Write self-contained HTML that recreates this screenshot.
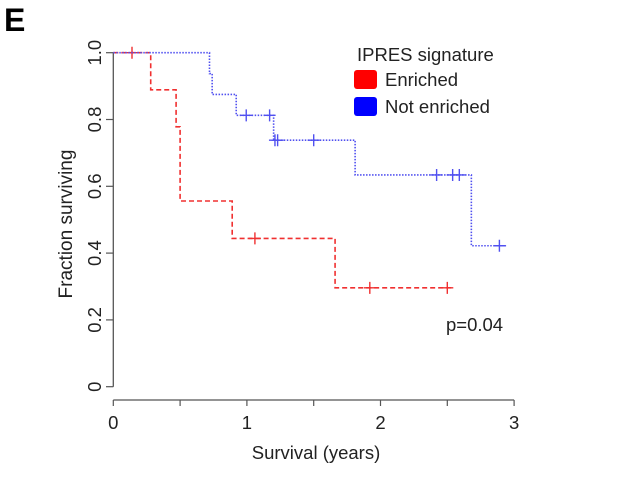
<!DOCTYPE html>
<html><head><meta charset="utf-8"><style>
body{margin:0;background:#fff;}
svg{display:block;font-family:"Liberation Sans",Arial,sans-serif;}
</style></head><body>
<svg id="chart" width="633" height="504">
<text x="4" y="31" font-size="32" font-weight="bold" fill="#000">E</text>
<g id="axes"></g>
<g id="series"></g>
<text x="72" y="224" font-size="19" fill="#222" text-anchor="middle" transform="rotate(-90 72 224)">Fraction surviving</text>
<text x="316" y="459" font-size="18.5" fill="#222" text-anchor="middle">Survival (years)</text>
<g>
<text x="357" y="61" font-size="18.5" fill="#222">IPRES signature</text>
<rect x="354" y="70" width="23" height="19" rx="3" fill="#ff0000"/>
<text x="385" y="86" font-size="18.5" fill="#222">Enriched</text>
<rect x="354" y="97" width="23" height="19" rx="3" fill="#0000ff"/>
<text x="385" y="113" font-size="18.5" fill="#222">Not enriched</text>
</g>
<text x="446" y="331" font-size="18.5" fill="#222">p=0.04</text>
</svg>
<script>
const xTicks=[0,1,2,3];
const yTicks=[0,0.2,0.4,0.6,0.8,1.0];
const yTickLabels=["0","0.2","0.4","0.6","0.8","1.0"];
const redTimes=[0,0.28,0.47,0.5,0.89,1.66,2.55];
const redSurv=[1,0.889,0.778,0.556,0.444,0.296,0.296];
const redCensor=[0.14,1.06,1.92,2.5];
const blueTimes=[0,0.72,0.74,0.92,1.2,1.81,2.68,2.94];
const blueSurv=[1,0.9375,0.875,0.8125,0.738,0.634,0.422,0.422];
const blueCensor=[0.995,1.17,1.21,1.23,1.5,2.42,2.54,2.59,2.89];
const NS="http://www.w3.org/2000/svg";
const X=t=>113.3+t*133.6, Y=v=>386.7-v*334;
function mk(tag,attrs,parent){const e=document.createElementNS(NS,tag);for(const k in attrs)e.setAttribute(k,attrs[k]);parent.appendChild(e);return e;}
const ax=document.getElementById('axes');
let l=mk('line',{x1:X(0),x2:X(3),y1:400,y2:400,stroke:'#555','stroke-width':1.3},ax);


l=mk('line',{x1:113.3,x2:113.3,y1:Y(1),y2:Y(0),stroke:'#555','stroke-width':1.3},ax);


for(let i=0;i<=6;i++){const t=i*0.5;
 const tk=mk('line',{x1:X(t),x2:X(t),y1:400,y2:406,stroke:'#555','stroke-width':1.2},ax);
 
 }
xTicks.forEach(t=>{const tx=mk('text',{x:X(t),y:429,'font-size':18.5,'text-anchor':'middle',fill:'#222'},ax);tx.textContent=t;
 
 });
yTicks.forEach((v,i)=>{const tk=mk('line',{x1:106,x2:113.3,y1:Y(v),y2:Y(v),stroke:'#555','stroke-width':1.2},ax);
 
 
 const tx=mk('text',{x:101,y:Y(v),'font-size':18.5,'text-anchor':'middle',fill:'#222',transform:`rotate(-90 101 ${Y(v)})`},ax);tx.textContent=yTickLabels[i];
 
 });
const sg=document.getElementById('series');
function stepAt(times,surv,t){let s=surv[0];for(let i=0;i<times.length;i++){if(times[i]<=t)s=surv[i];}return s;}
function draw(times,surv,censor,color,dash,name){
 let d=`M${X(times[0])},${Y(surv[0])}`;
 for(let i=1;i<times.length;i++){d+=` H${X(times[i])} V${Y(surv[i])}`;}
 const p=mk('path',{d,fill:'none',stroke:color,'stroke-width':1.6,'stroke-dasharray':dash},sg);
 
 
 censor.forEach(t=>{const x=X(t),y=Y(stepAt(times,surv,t));
  const c=mk('path',{d:`M${x-6},${y} H${x+6} M${x},${y-6} V${y+6}`,stroke:color,'stroke-width':1.4},sg);
  
  });
}
draw(redTimes,redSurv,redCensor,'#f03030','5,3','enriched');
draw(blueTimes,blueSurv,blueCensor,'#5050f0','1.5,1.5','not-enriched');
</script>
</body></html>
